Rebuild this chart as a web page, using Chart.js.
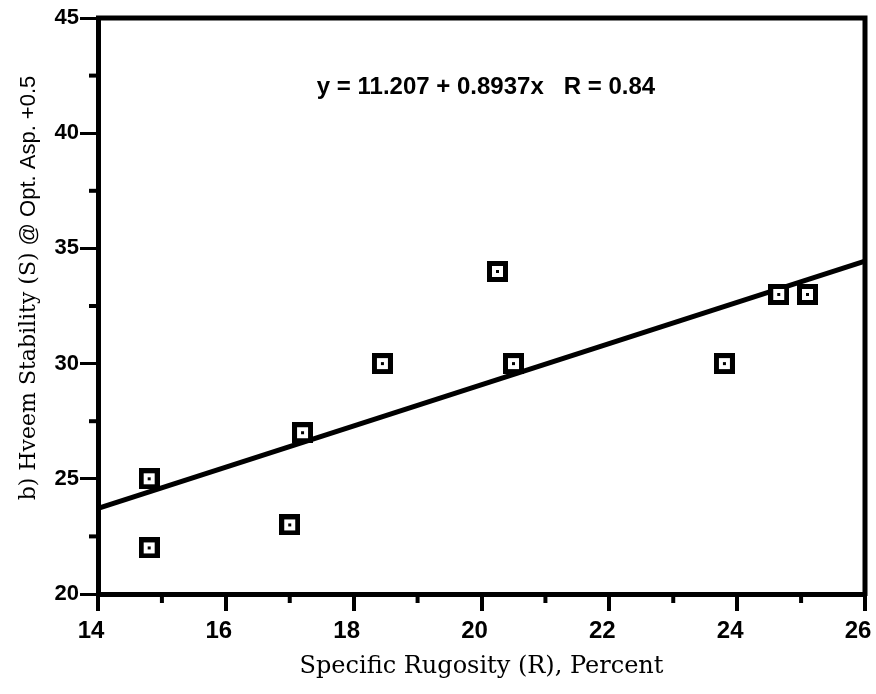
<!DOCTYPE html>
<html>
<head>
<meta charset="utf-8">
<script src="https://cdn.jsdelivr.net/npm/chart.js"></script>
<style>
  html, body { margin: 0; padding: 0; background: #fff; }
</style>
</head>
<body>
<canvas id="rugosityChart" width="876" height="694"></canvas>
<script>
// Specific rugosity (%) vs. Hveem stability at optimum asphalt +0.5
const rugosity  = [14.8, 14.8, 17.0, 17.2, 18.45, 20.25, 20.5, 23.8, 24.65, 25.1];
const stability = [25, 22, 23, 27, 30, 34, 30, 30, 33, 33];

// least-squares fit as printed on the plot
const fitIntercept = 11.207;
const fitSlope = 0.8937;
const fitR = 0.84;
const fitRange = [14, 26];

const xTicks = [14, 16, 18, 20, 22, 24, 26];
const xMinor = [15, 17, 19, 21, 23, 25];
const yTicks = [20, 25, 30, 35, 40, 45];
const yMinor = [22.5, 27.5, 32.5, 37.5, 42.5];

const xTitle = 'Specific Rugosity (R), Percent';
const yTitleSerif = 'b) Hveem Stability (S) ';
const yTitleSans = '@ Opt. Asp. +0.5';

// hollow square marker with a dot in the middle
function squareMarker() {
  const c = document.createElement('canvas');
  c.width = 21; c.height = 21;
  const g = c.getContext('2d');
  g.fillStyle = '#000';
  g.fillRect(0, 0, 21, 21);
  g.fillStyle = '#fff';
  g.fillRect(5, 5, 11, 11);
  g.fillStyle = '#000';
  g.fillRect(9, 9, 3, 3);
  return c;
}

const points = rugosity.map((r, i) => ({ x: r, y: stability[i] }));
const fitLine = fitRange.map(r => ({ x: r, y: fitIntercept + fitSlope * r }));

// frame, minor ticks, equation and the two-font y title
const plotDecor = {
  id: 'plotDecor',
  afterDraw(chart) {
    const { ctx, chartArea: a, scales: { x, y } } = chart;
    ctx.save();
    ctx.strokeStyle = '#000';
    ctx.lineWidth = 5;
    ctx.beginPath();
    ctx.moveTo(a.left - 2, a.top);
    ctx.lineTo(a.right, a.top);
    ctx.lineTo(a.right, a.bottom + 2);
    ctx.stroke();

    ctx.lineWidth = 4;
    xMinor.forEach(v => {
      const px = x.getPixelForValue(v);
      ctx.beginPath();
      ctx.moveTo(px, a.bottom);
      ctx.lineTo(px, a.bottom + 9);
      ctx.stroke();
    });
    yMinor.forEach(v => {
      const py = y.getPixelForValue(v);
      ctx.beginPath();
      ctx.moveTo(a.left, py);
      ctx.lineTo(a.left - 9, py);
      ctx.stroke();
    });

    ctx.fillStyle = '#000';
    ctx.font = 'bold 24px "Liberation Sans", Arial, sans-serif';
    ctx.textAlign = 'center';
    ctx.textBaseline = 'middle';
    const eq = 'y = ' + fitIntercept.toFixed(3) + ' + ' + fitSlope.toFixed(4) + 'x   R = ' + fitR.toFixed(2);
    ctx.fillText(eq, 486, a.top + 69);

    // rotated y title
    const serifFont = '22px "DejaVu Serif", serif';
    const sansFont = '22px "Liberation Sans", Arial, sans-serif';
    ctx.font = serifFont;
    const w1 = ctx.measureText(yTitleSerif).width;
    ctx.font = sansFont;
    const w2 = ctx.measureText(yTitleSans).width;
    ctx.translate(29, a.top + 270);
    ctx.rotate(-Math.PI / 2);
    ctx.textAlign = 'left';
    ctx.font = serifFont;
    ctx.fillText(yTitleSerif, -(w1 + w2) / 2, 0);
    ctx.font = sansFont;
    ctx.fillText(yTitleSans, -(w1 + w2) / 2 + w1, 0);
    ctx.restore();
  }
};

new Chart(document.getElementById('rugosityChart'), {
  type: 'scatter',
  data: {
    datasets: [
      {
        data: points,
        pointStyle: squareMarker(),
        pointRadius: 10,
        order: 0
      },
      {
        type: 'line',
        data: fitLine,
        borderColor: '#000',
        borderWidth: 5,
        pointRadius: 0,
        fill: false,
        order: 1
      }
    ]
  },
  options: {
    responsive: false,
    animation: false,
    events: [],
    devicePixelRatio: 1,
    layout: { padding: { top: 18, right: 8, left: 0, bottom: 0 } },
    plugins: { legend: { display: false }, tooltip: { enabled: false } },
    scales: {
      x: {
        type: 'linear',
        min: 14,
        max: 26,
        afterBuildTicks: s => { s.ticks = xTicks.map(v => ({ value: v })); },
        afterFit: s => { s.height = 100; s.paddingLeft = 0; s.paddingRight = 0; },
        border: { display: true, color: '#000', width: 5 },
        grid: { drawOnChartArea: false, drawTicks: true, tickLength: 17, color: '#000', lineWidth: 4 },
        ticks: {
          color: '#000',
          padding: 6,
          labelOffset: -7,
          maxRotation: 0,
          font: { family: '"Liberation Sans", Arial, sans-serif', size: 24, weight: 'bold' }
        },
        title: {
          display: true,
          text: xTitle,
          color: '#000',
          padding: { top: 0, bottom: 13 },
          font: { family: '"DejaVu Serif", serif', size: 24 }
        }
      },
      y: {
        type: 'linear',
        min: 20,
        max: 45,
        afterBuildTicks: s => { s.ticks = yTicks.map(v => ({ value: v })); },
        afterFit: s => { s.width = 98; s.paddingTop = 0; s.paddingBottom = 0; },
        border: { display: true, color: '#000', width: 5 },
        grid: { drawOnChartArea: false, drawTicks: true, tickLength: 18, color: '#000', lineWidth: 3 },
        ticks: {
          color: '#000',
          padding: 1,
          font: { family: '"Liberation Sans", Arial, sans-serif', size: 22, weight: 'bold' }
        }
      }
    }
  },
  plugins: [plotDecor]
});
</script>
</body>
</html>
